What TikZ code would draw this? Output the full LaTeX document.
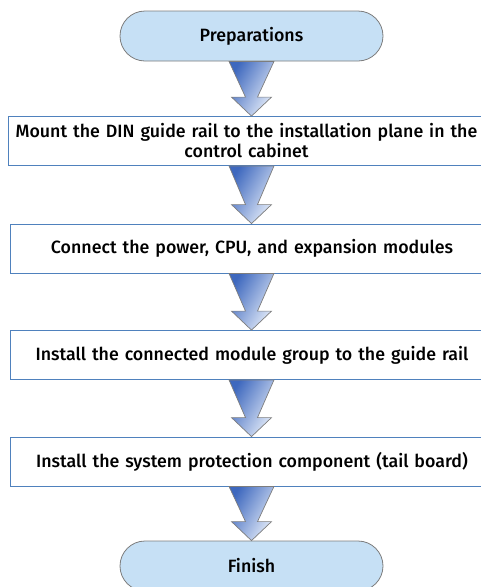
\documentclass[tikz,border=0pt]{standalone}
\usepackage{fontspec}
\setmainfont{Fira Sans}[UprightFont=* Medium]
\usetikzlibrary{calc}
\definecolor{boxblue}{RGB}{79,129,189}
\definecolor{pillblue}{RGB}{198,224,245}
\definecolor{pillgray}{RGB}{125,125,125}
\definecolor{arrowdark}{RGB}{62,104,190}
\definecolor{arrowlight}{RGB}{228,236,249}

\begin{document}
\begin{tikzpicture}[x=1pt, y=1pt,
      pill/.style={draw=pillgray, fill=pillblue, rounded corners=25pt, minimum width=263pt,
                   minimum height=50pt, font=\fontsize{17.8}{21}\selectfont, line width=0.8pt},
      stepbox/.style={draw=boxblue, fill=white, minimum width=484pt, minimum height=49pt,
                      text width=470pt, align=center, font=\fontsize{17.8}{20}\selectfont, line width=0.8pt},
      flowarrow/.style={draw=pillgray, line width=0.7pt, left color=arrowdark, right color=arrowlight,
                        shading angle=60}
    ]
      \clip (0,0) rectangle (481,-587);
      \node[pill] (prep) at (251.5,-36) {Preparations};
      \node[stepbox, minimum width=473pt] (rail) at (246.5,-141) {Mount the DIN guide rail to the installation plane in the\\control cabinet};
      \node[stepbox] (conn) at (252,-248.5) {Connect the power, CPU, and expansion modules};
      \node[stepbox] (group) at (252,-355) {Install the connected module group to the guide rail};
      \node[stepbox] (tail) at (252,-461.5) {Install the system protection component (tail board)};
      \node[pill] (fin) at (251.5,-566) {Finish};
      % block arrows between the steps, on the axis of the pills
      \foreach \a/\b in {prep/rail, rail/conn, conn/group, group/tail, tail/fin} {
        \coordinate (top) at (prep.south |- \a.south);
        \coordinate (tip) at (prep.south |- \b.north);
        \path[flowarrow] ($(top)+(-22.5,0)$) -- ($(top)+(22.5,0)$)
          -- ($(tip)+(6,19)$) -- ($(tip)+(20,19)$) -- (tip)
          -- ($(tip)+(-20,19)$) -- ($(tip)+(-6,19)$) -- cycle;
      }
    \end{tikzpicture}
\end{document}
